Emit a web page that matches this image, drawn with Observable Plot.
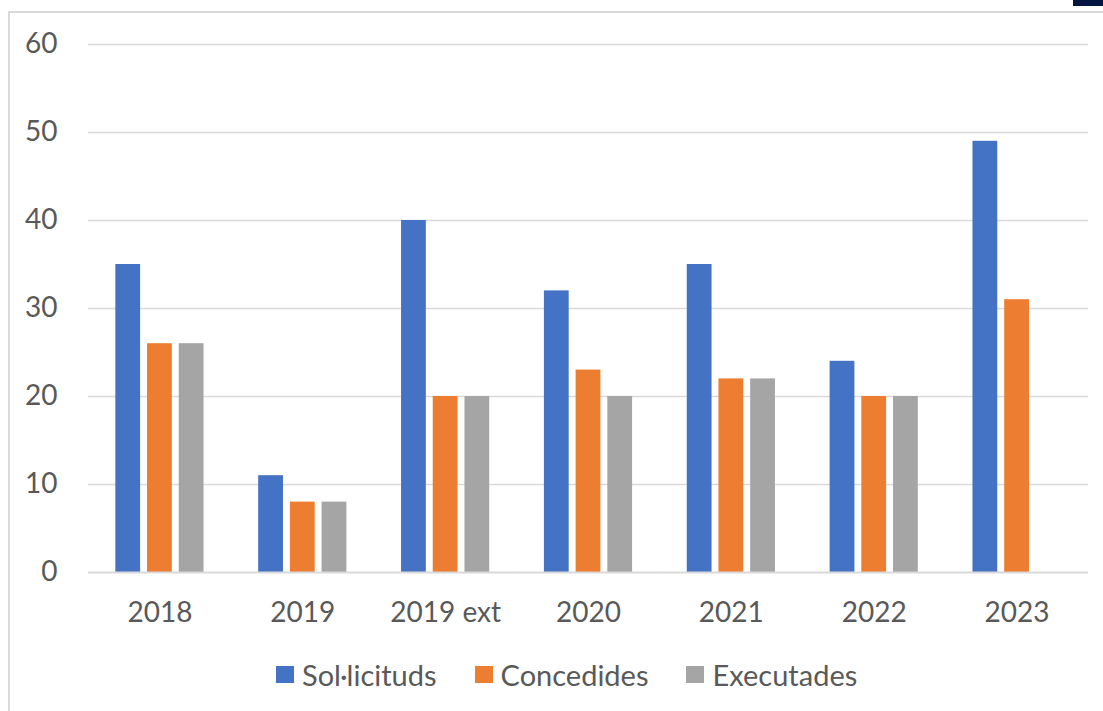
<!DOCTYPE html>
<html>
<head>
<meta charset="utf-8">
<script src="https://cdn.jsdelivr.net/npm/d3@7"></script>
<script src="https://cdn.jsdelivr.net/npm/@observablehq/plot@0.6"></script>
<style>
  html, body { margin: 0; padding: 0; background: #fff; width: 1103px; height: 711px; overflow: hidden; }
  body { position: relative; font-family: Lato, "Open Sans", sans-serif; }
  #frame { position: absolute; left: 8px; top: 11px; width: 1120px; height: 740px; border: 2px solid #d9d9d9; box-sizing: border-box; }
  #chart { position: absolute; left: 0; top: 0; }
  #tab { position: absolute; left: 1073px; top: 0; width: 30px; height: 6px; background: #001540; }
  #legend { position: absolute; left: 276px; top: 657px; display: flex; align-items: center; font-size: 29px; color: #595959; white-space: nowrap; }
  .item { display: flex; align-items: center; margin-right: 38px; }
  .sw { width: 18px; height: 17px; margin-right: 8px; }
</style>
</head>
<body>
<div id="frame"></div>
<div id="chart"></div>
<div id="tab"></div>
<div id="legend"></div>
<script>
const years = ["2018", "2019", "2019 ext", "2020", "2021", "2022", "2023"];
const seriesNames = ["Sol·licituds", "Concedides", "Executades"];
const solicituds = [35, 11, 40, 32, 35, 24, 49];
const concedides = [26, 8, 20, 23, 22, 20, 31];
const executades = [26, 8, 20, 20, 22, 20, null];
const colors = ["#4472C4", "#ED7D31", "#A5A5A5"];
const yTicks = [0, 10, 20, 30, 40, 50, 60];

const seriesValues = [solicituds, concedides, executades];
const data = [];
years.forEach((yr, i) => {
  seriesNames.forEach((s, j) => {
    const v = seriesValues[j][i];
    if (v != null) data.push({year: yr, series: s, value: v});
  });
});

const plot = Plot.plot({
  width: 1103,
  height: 640,
  marginLeft: 88,
  marginRight: 15,
  marginTop: 44,
  marginBottom: 68,
  style: {fontFamily: "Lato, 'Open Sans', sans-serif", fontSize: "28px", color: "#595959", background: "transparent"},
  fx: {domain: years, padding: 0, round: false, label: null, tickSize: 0, tickPadding: 30, axis: "bottom"},
  x: {domain: seriesNames, paddingInner: 0.218, paddingOuter: 0.862, round: false, axis: null},
  y: {domain: [0, 60], ticks: yTicks, label: null, tickSize: 0, tickPadding: 31},
  color: {domain: seriesNames, range: colors},
  marks: [
    Plot.ruleY(yTicks.filter(d => d > 0), {stroke: "#d9d9d9", strokeWidth: 1.5, strokeOpacity: 1}),
    Plot.barY(data, {fx: "year", x: "series", y: "value", fill: "series"}),
    Plot.ruleY([0], {stroke: "#d9d9d9", strokeWidth: 2, strokeOpacity: 1})
  ]
});
document.getElementById("chart").appendChild(plot);

const legend = document.getElementById("legend");
seriesNames.forEach((s, j) => {
  const it = document.createElement("div");
  it.className = "item";
  const sw = document.createElement("span");
  sw.className = "sw";
  sw.style.background = colors[j];
  const t = document.createElement("span");
  t.textContent = s;
  it.appendChild(sw);
  it.appendChild(t);
  legend.appendChild(it);
});
</script>
</body>
</html>
